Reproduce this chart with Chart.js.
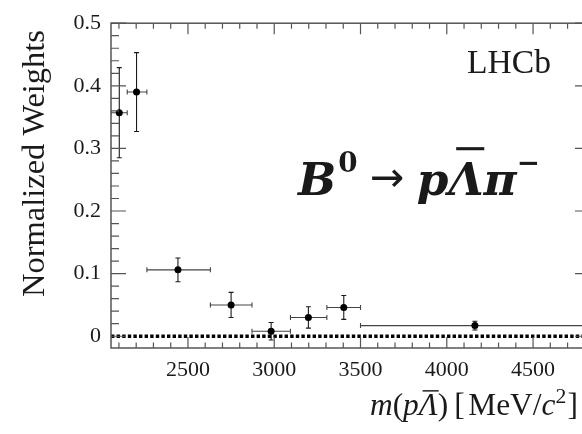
<!DOCTYPE html>
<html><head><meta charset="utf-8">
<script src="https://cdn.jsdelivr.net/npm/chart.js@4.4.1/dist/chart.umd.min.js"></script>
<style>
html,body{margin:0;padding:0;background:#fff;overflow:hidden;}
#wrap{width:582px;height:434px;overflow:hidden;position:relative;background:#fff;}
canvas{display:block;}
</style></head><body>
<div id="wrap"><canvas id="c" width="594" height="434" style="width:594px;height:434px"></canvas></div>
<script>
// ---- data ----
const massCenters  = [2102, 2202, 2442, 2750, 2982, 3198, 3403, 4163];
const binLow       = [2054, 2148, 2262, 2630, 2871, 3094, 3305, 3500];
const binHigh      = [2148, 2262, 2630, 2871, 3094, 3305, 3500, 4830];
const weights      = [0.357, 0.390, 0.106, 0.050, 0.008, 0.030, 0.046, 0.017];
const weightErrors = [0.072, 0.063, 0.019, 0.020, 0.014, 0.017, 0.019, 0.007];
const xTickValues  = [2500, 3000, 3500, 4000, 4500];
const xTickLabels  = ['2500', '3000', '3500', '4000', '4500'];
const yTickValues  = [0, 0.1, 0.2, 0.3, 0.4, 0.5];
const yTickLabels  = ['0', '0.1', '0.2', '0.3', '0.4', '0.5'];
const X_MIN = 2054, X_MAX = 4830, Y_MIN = -0.0188, Y_MAX = 0.5;

const SERIF = '"Liberation Serif", "Times New Roman", serif';
const DSERIF = '"DejaVu Serif", serif';
const INK = '#1a1a1a';
const FRAME = '#555';

function fontStr(s, k) {
  return (s.style || 'normal') + ' ' + (s.weight || 'normal') + ' ' + (s.size * k).toFixed(2) + 'px ' + (s.family || SERIF);
}
function richWidth(ctx, segs, k) {
  let w = 0;
  for (const s of segs) { ctx.font = fontStr(s, k); w += ctx.measureText(s.t).width + (s.gap || 0) * k; }
  return w;
}
function drawRich(ctx, segs, x, y, targetW) {
  const k = targetW ? targetW / richWidth(ctx, segs, 1) : 1;
  let cx = x;
  ctx.textAlign = 'left';
  ctx.textBaseline = 'alphabetic';
  for (const s of segs) {
    ctx.font = fontStr(s, k);
    const w = ctx.measureText(s.t).width;
    const yy = y - (s.rise || 0) * k;
    ctx.fillText(s.t, cx, yy);
    if (s.over) {
      ctx.beginPath();
      ctx.lineWidth = s.over.lw * k;
      ctx.moveTo(cx + s.over.x0 * w, yy - s.over.h * k);
      ctx.lineTo(cx + s.over.x1 * w, yy - s.over.h * k);
      ctx.stroke();
    }
    cx += w + (s.gap || 0) * k;
  }
}

const decorPlugin = {
  id: 'decor',
  beforeDatasetsDraw(chart) {
    const { ctx, chartArea: a, scales: { x, y } } = chart;
    ctx.save();
    ctx.beginPath(); ctx.rect(a.left, a.top, a.right - a.left, a.bottom - a.top); ctx.clip();
    ctx.lineWidth = 1.1;
    const cap = 2.5;
    for (let i = 0; i < massCenters.length; i++) {
      const px = x.getPixelForValue(massCenters[i]);
      const py = y.getPixelForValue(weights[i]);
      const xl = x.getPixelForValue(binLow[i]);
      const xh = x.getPixelForValue(binHigh[i]);
      const yt = y.getPixelForValue(weights[i] + weightErrors[i]);
      const yb = y.getPixelForValue(weights[i] - weightErrors[i]);
      ctx.strokeStyle = '#444';
      ctx.beginPath();
      ctx.moveTo(xl, py); ctx.lineTo(xh, py);
      ctx.moveTo(xl, py - cap); ctx.lineTo(xl, py + cap);
      ctx.moveTo(xh, py - cap); ctx.lineTo(xh, py + cap);
      ctx.stroke();
      ctx.strokeStyle = '#1a1a1a';
      ctx.beginPath();
      ctx.moveTo(px, yt); ctx.lineTo(px, yb);
      ctx.moveTo(px - cap, yt); ctx.lineTo(px + cap, yt);
      ctx.moveTo(px - cap, yb); ctx.lineTo(px + cap, yb);
      ctx.stroke();
    }
    ctx.restore();
  },
  afterDraw(chart) {
    const { ctx, chartArea: a, scales: { x, y } } = chart;
    ctx.save();
    // frame
    ctx.strokeStyle = FRAME;
    ctx.lineWidth = 1.5;
    ctx.strokeRect(a.left, a.top, a.right - a.left, a.bottom - a.top);
    // inward ticks
    ctx.lineWidth = 1.2;
    ctx.beginPath();
    for (let v = 2100; v <= X_MAX; v += 100) {
      const p = x.getPixelForValue(v);
      const len = (v % 500 === 0) ? 11 : 5.5;
      ctx.moveTo(p, a.bottom); ctx.lineTo(p, a.bottom - len);
      ctx.moveTo(p, a.top); ctx.lineTo(p, a.top + len);
    }
    for (let j = 0; j <= 25; j++) {
      const v = j * 0.02;
      const p = y.getPixelForValue(v);
      const len = (j % 5 === 0) ? 15 : 8;
      ctx.moveTo(a.left, p); ctx.lineTo(a.left + len, p);
      ctx.moveTo(a.right, p); ctx.lineTo(a.right - len, p);
    }
    ctx.stroke();

    ctx.fillStyle = INK;
    ctx.strokeStyle = INK;
    // y axis title, fitted to the reference length
    ctx.save();
    ctx.translate(35, 30);
    ctx.rotate(-Math.PI / 2);
    ctx.font = '31px ' + SERIF;
    const yw = ctx.measureText('Normalized Weights').width;
    ctx.font = (31 * 267 / yw).toFixed(2) + 'px ' + SERIF;
    ctx.textAlign = 'right';
    ctx.textBaseline = 'middle';
    ctx.fillText('Normalized Weights', 0, 0);
    ctx.restore();

    // x axis title  m(p Λ̄) [MeV/c²]
    drawRich(ctx, [
      { t: 'm', style: 'italic', size: 26 },
      { t: '(', size: 26 },
      { t: 'p', style: 'italic', size: 26 },
      { t: 'Λ', style: 'italic', size: 26, over: { x0: 0.2, x1: 1.05, h: 20, lw: 1.2 } },
      { t: ')', size: 26, gap: 5 },
      { t: '[', size: 26, gap: 3 },
      { t: 'MeV/', size: 26 },
      { t: 'c', style: 'italic', size: 26 },
      { t: '2', size: 18, rise: 10, gap: 1 },
      { t: ']', size: 26 }
    ], 370, 415, 208);

    // LHCb label
    drawRich(ctx, [{ t: 'LHCb', size: 32 }], 467, 73, 84);

    // decay label  B⁰ → pΛ̄π⁻
    drawRich(ctx, [
      { t: 'B', style: 'italic', weight: 'bold', size: 44, family: DSERIF, gap: 2 },
      { t: '0', weight: 'bold', size: 27, family: DSERIF, rise: 22, gap: 12 },
      { t: '→', size: 40, family: '"DejaVu Sans", sans-serif', rise: 4, gap: 12 },
      { t: 'p', style: 'italic', weight: 'bold', size: 44, family: DSERIF },
      { t: 'Λ', style: 'italic', weight: 'bold', size: 44, family: DSERIF, over: { x0: 0.22, x1: 1.02, h: 45, lw: 3 } },
      { t: 'π', style: 'italic', weight: 'bold', size: 44, family: DSERIF },
      { t: '−', weight: 'bold', size: 27, family: DSERIF, rise: 22 }
    ], 298, 195, 242);
    ctx.restore();
  }
};

new Chart(document.getElementById('c'), {
  type: 'scatter',
  data: {
    datasets: [
      {
        label: 'zero', type: 'line',
        data: [{ x: X_MIN, y: 0 }, { x: X_MAX, y: 0 }],
        borderColor: '#000', borderWidth: 3.4, borderDash: [3.4, 2.2],
        pointRadius: 0, fill: false, order: 2
      },
      {
        label: 'weights',
        data: massCenters.map((m, i) => ({ x: m, y: weights[i] })),
        backgroundColor: '#000', borderColor: '#000', pointRadius: 3.5, borderWidth: 0, order: 1
      }
    ]
  },
  options: {
    responsive: false,
    animation: false,
    layout: { padding: { top: 18, right: 2, left: 0, bottom: 0 } },
    plugins: { legend: { display: false }, tooltip: { enabled: false } },
    scales: {
      x: {
        type: 'linear', min: X_MIN, max: X_MAX,
        afterBuildTicks: s => { s.ticks = xTickValues.map(v => ({ value: v })); },
        afterFit: s => { s.height = 86; },
        ticks: {
          callback: (v, i) => xTickLabels[i],
          font: { family: SERIF, size: 22 }, color: INK, padding: 9,
          maxRotation: 0, autoSkip: false
        },
        grid: { display: false, drawTicks: false },
        border: { display: false }
      },
      y: {
        type: 'linear', min: Y_MIN, max: Y_MAX,
        afterBuildTicks: s => { s.ticks = yTickValues.map(v => ({ value: v })); },
        afterFit: s => { s.width = 111; },
        ticks: {
          callback: (v, i) => yTickLabels[i],
          font: { family: SERIF, size: 22 }, color: INK, padding: 10
        },
        grid: { display: false, drawTicks: false },
        border: { display: false }
      }
    }
  },
  plugins: [decorPlugin]
});
</script>
</body></html>
